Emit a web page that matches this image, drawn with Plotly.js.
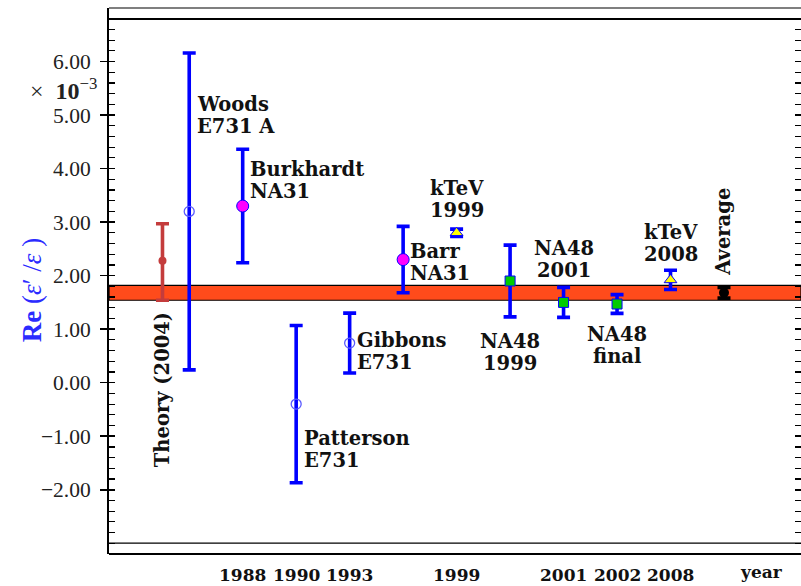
<!DOCTYPE html>
<html>
<head>
<meta charset="utf-8">
<script src="https://cdn.plot.ly/plotly-3.0.1.min.js"></script>
<style>html,body{margin:0;padding:0;background:#fff;}#chart{width:801px;height:586px;}</style>
</head>
<body>
<div id="chart"></div>
<script>
// ---- data (units of 1e-3) ----
const categories = ['Theory (2004)','Woods E731 A','Burkhardt NA31','Patterson E731','Gibbons E731','Barr NA31','kTeV 1999','NA48 1999','NA48 2001','NA48 final','kTeV 2008','Average'];
const xIndex    = [0.5, 1, 2, 3, 4, 5, 6, 7, 8, 9, 10, 11];
const values    = [2.28, 3.20, 3.30, -0.40, 0.74, 2.30, 2.80, 1.90, 1.50, 1.47, 1.92, 1.68];
const errPlus   = [0.69, 2.96, 1.06, 1.47, 0.56, 0.62, 0.07, 0.67, 0.28, 0.175, 0.18, 0.10];
const errMinus  = [0.74, 2.96, 1.06, 1.47, 0.56, 0.62, 0.07, 0.67, 0.28, 0.175, 0.18, 0.10];
const groupOf   = ['theory','e731','na31','e731','e731','na31','ktev','na48','na48','na48','ktev','avg'];
const bandLow = 1.54, bandHigh = 1.82;
const yearTickIdx = [2, 3, 4, 6, 8, 9, 10];
const yearLabels  = ['1988','1990','1993','1999','2001','2002','2008'];
const yTickVals = [-2, -1, 0, 1, 2, 3, 4, 5, 6];

// ---- styles ----
const SERIF = "'DejaVu Serif', serif";
const TIMES = "'Liberation Serif', 'Times New Roman', serif";
const styles = {
  theory: {color:'#c43c3c', marker:{symbol:'circle', size:8, color:'#c43c3c'}},
  e731:   {color:'#0000ff', marker:{symbol:'circle-open', size:10, color:'#5a5aff', line:{width:1.3}}},
  na31:   {color:'#0000ff', marker:{symbol:'circle', size:12, color:'#ff00ff', line:{color:'#0000ff', width:1}}},
  ktev:   {color:'#0000ff', marker:{symbol:'triangle-up', size:11, color:'#ffff00', line:{color:'#0000ff', width:1}}},
  na48:   {color:'#0000ff', marker:{symbol:'square', size:10, color:'#00cc00', line:{color:'#0000ff', width:1}}},
  avg:    {color:'#000000', marker:{symbol:'circle', size:10, color:'#000000'}}
};

const traces = [];
Object.keys(styles).forEach(g => {
  const idx = groupOf.map((v,i)=>v===g?i:-1).filter(i=>i>=0);
  const st = styles[g];
  traces.push({
    type:'scatter', mode:'markers',
    x: idx.map(i=>xIndex[i]), y: idx.map(i=>values[i]),
    text: idx.map(i=>categories[i]),
    marker: st.marker,
    error_y: {type:'data', symmetric:false, array: idx.map(i=>errPlus[i]), arrayminus: idx.map(i=>errMinus[i]),
              color: st.color, thickness:3.6, width:6.5},
    showlegend:false, hoverinfo:'text+y', cliponaxis:false
  });
});
// helper trace for the second (tick-only) y axis
traces.push({type:'scatter', mode:'markers', x:[0], y:[0], yaxis:'y2', marker:{opacity:0}, hoverinfo:'skip', showlegend:false});

// ---- labels ----
const labelDefs = [
  {lines:['Woods','E731 A'], x:1.113, y:4.99, xa:'left'},
  {lines:['Burkhardt','NA31'], x:2.104, y:3.78, xa:'left'},
  {lines:['kTeV','1999'], x:6.0, y:3.42, xa:'center'},
  {lines:['Barr','NA31'], x:5.10, y:2.25, xa:'left'},
  {lines:['NA48','2001'], x:8.0, y:2.30, xa:'center'},
  {lines:['kTeV','2008'], x:10.0, y:2.60, xa:'center'},
  {lines:['Gibbons','E731'], x:4.10, y:0.59, xa:'left'},
  {lines:['NA48','1999'], x:7.0, y:0.56, xa:'center'},
  {lines:['NA48','final'], x:9.0, y:0.69, xa:'center'},
  {lines:['Patterson','E731'], x:3.114, y:-1.25, xa:'left'}
];
const serifBold = {family:SERIF, size:19.5, color:'#111', weight:'bold'};
const annotations = [];
labelDefs.forEach(L => {
  L.lines.forEach((t, k) => {
    annotations.push({xref:'x', yref:'y', x:L.x, y:L.y, text:t, showarrow:false,
      xanchor:L.xa, yanchor:'middle', yshift: 11 - 22*k, font:serifBold});
  });
});
annotations.push({xref:'x', yref:'y', x:0.5, y:-0.13, text:'Theory (2004)', textangle:-90, showarrow:false,
  xanchor:'center', yanchor:'middle', font:serifBold});
annotations.push({xref:'x', yref:'y', x:11, y:2.82, text:'Average', textangle:-90, showarrow:false,
  xanchor:'center', yanchor:'middle', font:serifBold});
yearTickIdx.forEach((xi, k) => {
  annotations.push({xref:'x', yref:'paper', x:xi, y:-0.0385, text:yearLabels[k], showarrow:false,
    xanchor:'center', yanchor:'middle', font:{family:SERIF, size:17, color:'#111', weight:'bold'}});
});
annotations.push({xref:'x', yref:'paper', x:11.71, y:-0.033, text:'year', showarrow:false,
  xanchor:'center', yanchor:'middle', font:{family:SERIF, size:17, color:'#111', weight:'bold'}});
annotations.push({xref:'paper', yref:'paper', x:-0.014, y:0.852, text:'×  <b>10</b><sup>−3</sup>', showarrow:false,
  xanchor:'right', yanchor:'middle', font:{family:TIMES, size:24, color:'#222'}});
annotations.push({xref:'paper', yref:'paper', x:-0.112, y:0.484, text:'<b>Re</b> (<i>ε</i>′ /<i>ε</i> )', textangle:-90, showarrow:false,
  xanchor:'center', yanchor:'middle', font:{family:TIMES, size:27, color:'#2b2bff'}});

const shapes = [
  {type:'rect', xref:'paper', yref:'y', x0:0, x1:1, y0:bandLow, y1:bandHigh, fillcolor:'#ff4b1b', line:{color:'#000', width:1.2}, layer:'below'},
  {type:'line', xref:'paper', yref:'paper', x0:0, x1:1, y0:1, y1:1, line:{color:'#000', width:1.2}},
  {type:'line', xref:'paper', yref:'paper', x0:0, x1:1, y0:0.9799, y1:0.9799, line:{color:'#000', width:2}},
  {type:'line', xref:'paper', yref:'paper', x0:0, x1:1, y0:0.0201, y1:0.0201, line:{color:'#000', width:1.2}},
  {type:'line', xref:'paper', yref:'paper', x0:0, x1:1, y0:0, y1:0, line:{color:'#000', width:2}}
];

const yRange = [-3.2, 7.0];
const layout = {
  width:801, height:586,
  margin:{l:109, r:0, t:8, b:32},
  paper_bgcolor:'#fff', plot_bgcolor:'#fff',
  showlegend:false,
  font:{family:TIMES},
  xaxis:{range:[-0.5, 12.44], showgrid:false, zeroline:false, showline:false, showticklabels:false, ticks:''},
  yaxis:{range:yRange, showgrid:false, zeroline:false, showline:true, linecolor:'#000', linewidth:2,
    tickmode:'array', tickvals:yTickVals, ticktext:yTickVals.map(v=>v.toFixed(2).replace('-','−')),
    ticks:'outside', ticklen:7, tickwidth:1.5, tickcolor:'#000',
    ticklabelstandoff:5,
    tickfont:{family:TIMES, size:21.5, color:'#222'}},
  yaxis2:{range:yRange, overlaying:'y', side:'left', showgrid:false, zeroline:false, showline:false,
    showticklabels:false, tickmode:'array', tickvals:yTickVals,
    ticks:'inside', ticklen:6, tickwidth:1.5, tickcolor:'#000', mirror:'ticks',
    minor:{tickmode:'linear', tick0:0, dtick:0.2, ticks:'inside', ticklen:6, tickwidth:1.2, tickcolor:'#000'}},
  shapes:shapes,
  annotations:annotations
};

Plotly.newPlot('chart', traces, layout, {displayModeBar:false, staticPlot:true});
</script>
</body>
</html>
